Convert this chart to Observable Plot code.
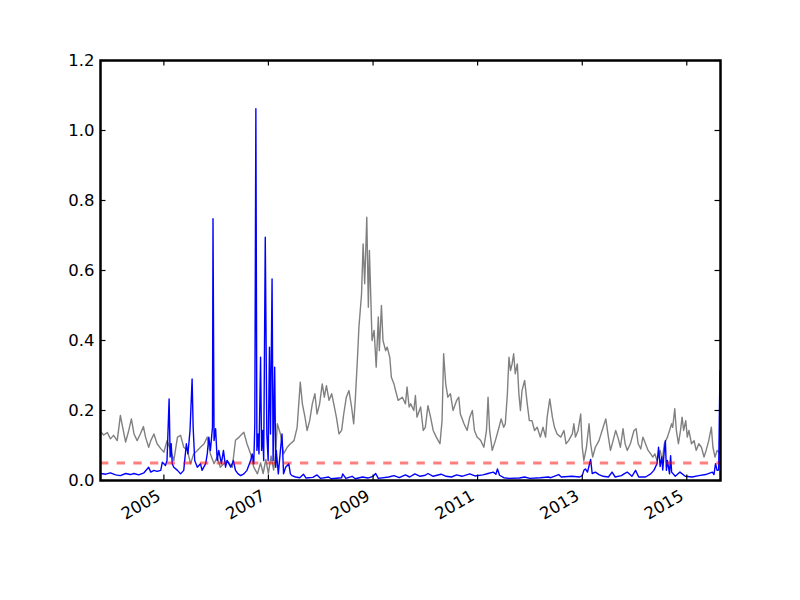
<!DOCTYPE html>
<html>
<head>
<meta charset="utf-8">
<script src="https://cdn.jsdelivr.net/npm/d3@7"></script>
<script src="https://cdn.jsdelivr.net/npm/@observablehq/plot@0.6"></script>
<style>
  html, body { margin: 0; padding: 0; background: white; }
</style>
</head>
<body>
<div id="chart"></div>
<script>
// ---- data (decimal years) ----
const grayYears = [
2003.79,2003.85,2003.92,2003.98,2004.04,2004.11,2004.17,2004.20,2004.27,2004.33,2004.38,2004.43,2004.49,2004.55,2004.61,2004.65,2004.71,2004.75,2004.81,2004.87,2004.94,
2005.00,2005.06,2005.13,2005.19,2005.26,2005.32,2005.38,2005.45,2005.51,2005.57,2005.64,2005.70,2005.77,2005.83,2005.89,2005.96,
2006.02,2006.08,2006.15,2006.21,2006.31,2006.37,2006.44,2006.53,2006.59,2006.66,2006.72,2006.79,2006.85,2006.90,2006.95,
2007.00,2007.05,2007.10,2007.14,2007.17,2007.23,2007.29,2007.36,2007.42,2007.49,2007.55,2007.61,2007.65,2007.70,2007.74,2007.79,2007.84,2007.89,2007.93,2007.98,
2008.03,2008.07,2008.11,2008.16,2008.21,2008.25,2008.30,2008.35,2008.40,2008.44,2008.49,2008.54,2008.59,2008.63,2008.66,2008.70,2008.73,2008.78,2008.81,2008.84,2008.86,2008.88,2008.91,2008.93,2008.96,2008.98,
2009.02,2009.06,2009.10,2009.12,2009.16,2009.19,2009.24,2009.27,2009.32,2009.35,2009.40,2009.43,2009.48,2009.56,2009.62,2009.65,2009.69,2009.72,2009.78,2009.81,2009.84,2009.91,2009.96,
2010.00,2010.05,2010.10,2010.15,2010.21,2010.28,2010.32,2010.35,2010.39,2010.43,2010.48,2010.53,2010.60,2010.64,2010.67,2010.74,2010.80,2010.85,2010.90,2010.94,2010.99,
2011.06,2011.12,2011.17,2011.20,2011.23,2011.28,2011.34,2011.41,2011.45,2011.50,2011.53,2011.57,2011.60,2011.63,2011.66,2011.69,2011.72,2011.76,2011.79,2011.82,2011.85,2011.90,2011.95,2011.99,
2012.04,2012.09,2012.14,2012.20,2012.25,2012.30,2012.33,2012.38,2012.43,2012.47,2012.52,2012.59,2012.65,2012.69,2012.74,2012.81,2012.84,2012.87,2012.92,2012.97,
2013.00,2013.03,2013.08,2013.13,2013.16,2013.20,2013.25,2013.32,2013.38,2013.45,2013.50,2013.54,2013.59,2013.64,2013.69,2013.73,2013.78,2013.82,2013.86,2013.92,2013.99,
2014.03,2014.07,2014.12,2014.16,2014.21,2014.26,2014.31,2014.35,2014.39,2014.43,2014.49,2014.53,2014.57,2014.63,2014.67,2014.71,2014.73,2014.77,2014.80,2014.84,2014.88,2014.91,2014.94,2014.98,
2015.01,2015.04,2015.09,2015.14,2015.18,2015.23,2015.28,2015.33,2015.37,2015.42,2015.47,2015.50,2015.54,2015.58,2015.645
];
const grayValues = [
0.140,0.130,0.137,0.119,0.129,0.114,0.186,0.162,0.110,0.143,0.176,0.133,0.114,0.133,0.154,0.124,0.095,0.114,0.133,0.105,0.091,
0.081,0.114,0.086,0.057,0.124,0.129,0.095,0.086,0.048,0.076,0.086,0.095,0.105,0.124,0.076,0.048,
0.067,0.038,0.048,0.057,0.038,0.115,0.124,0.138,0.105,0.076,0.038,0.019,0.050,0.020,0.060,
0.020,0.070,0.030,0.080,0.162,0.133,0.076,0.095,0.105,0.114,0.152,0.281,0.219,0.181,0.143,0.171,0.219,0.248,0.190,0.219,
0.276,0.238,0.271,0.229,0.248,0.219,0.181,0.133,0.143,0.190,0.238,0.257,0.210,0.162,0.229,0.343,0.438,0.533,0.676,0.562,0.657,0.752,0.495,0.657,0.505,0.400,
0.429,0.324,0.467,0.371,0.500,0.400,0.371,0.381,0.352,0.295,0.276,0.257,0.229,0.238,0.219,0.267,0.210,0.219,0.200,0.243,0.181,0.210,0.143,
0.152,0.214,0.181,0.143,0.124,0.105,0.171,0.362,0.276,0.238,0.248,0.200,0.229,0.238,0.190,0.162,0.143,0.181,0.200,0.143,0.124,
0.114,0.095,0.143,0.238,0.143,0.086,0.114,0.152,0.176,0.152,0.162,0.248,0.352,0.314,0.333,0.362,0.305,0.333,0.248,0.200,0.257,0.286,0.219,0.171,
0.171,0.143,0.152,0.124,0.152,0.124,0.181,0.233,0.181,0.152,0.133,0.124,0.143,0.105,0.114,0.133,0.162,0.124,0.143,0.190,
0.095,0.057,0.095,0.162,0.105,0.067,0.095,0.114,0.143,0.176,0.124,0.086,0.114,0.143,0.119,0.095,0.148,0.105,0.086,0.105,0.143,
0.148,0.105,0.090,0.124,0.105,0.086,0.076,0.067,0.076,0.057,0.086,0.057,0.105,0.124,0.143,0.162,0.152,0.205,0.143,0.105,0.143,0.181,0.143,0.171,
0.124,0.143,0.105,0.114,0.086,0.105,0.095,0.067,0.086,0.114,0.152,0.095,0.067,0.086,0.076
];

const blueYears = [
2003.79,2003.89,2003.98,2004.08,2004.17,2004.27,2004.36,2004.43,2004.52,2004.62,2004.71,2004.75,2004.81,2004.87,2004.94,2004.97,
2005.00,2005.03,2005.06,2005.10,2005.12,2005.14,2005.16,2005.19,2005.26,2005.32,2005.38,2005.43,2005.46,2005.50,2005.54,2005.56,2005.59,2005.64,2005.70,2005.73,2005.80,2005.83,2005.86,2005.89,2005.93,2005.94,2005.96,2005.99,
2006.02,2006.05,2006.10,2006.14,2006.18,2006.21,2006.28,2006.33,2006.37,2006.42,2006.47,2006.53,2006.59,2006.66,2006.69,2006.72,2006.74,2006.76,2006.78,2006.80,2006.82,2006.85,2006.87,2006.89,2006.91,2006.94,2006.97,2006.995,
2007.02,2007.04,2007.07,2007.09,2007.12,2007.14,2007.15,2007.19,2007.23,2007.26,2007.29,2007.33,2007.39,2007.42,2007.45,2007.52,2007.60,2007.67,2007.72,2007.85,2007.93,
2008.00,2008.15,2008.20,2008.40,2008.42,2008.48,2008.60,2008.66,2008.80,2008.90,
2009.00,2009.05,2009.10,2009.30,2009.40,2009.50,2009.62,2009.70,2009.80,2009.90,
2010.00,2010.05,2010.15,2010.30,2010.40,2010.50,2010.60,2010.70,2010.85,2010.95,
2011.10,2011.20,2011.30,2011.35,2011.38,2011.42,2011.50,2011.60,2011.80,2011.90,
2012.00,2012.20,2012.35,2012.40,2012.55,2012.60,2012.80,2012.95,
2013.00,2013.03,2013.06,2013.10,2013.16,2013.19,2013.25,2013.32,2013.40,2013.50,2013.57,2013.63,2013.75,2013.80,2013.86,2013.95,
2014.02,2014.08,2014.21,2014.31,2014.37,2014.43,2014.46,2014.49,2014.52,2014.54,2014.57,2014.59,2014.61,2014.63,2014.67,2014.69,2014.71,2014.78,2014.87,2014.97,
2015.10,2015.23,2015.36,2015.49,2015.52,2015.55,2015.58,2015.61,2015.635
];
const blueValues = [
0.020,0.018,0.022,0.016,0.014,0.020,0.017,0.020,0.016,0.022,0.038,0.024,0.029,0.026,0.029,0.052,
0.048,0.043,0.057,0.233,0.067,0.105,0.048,0.038,0.029,0.019,0.029,0.105,0.076,0.143,0.290,0.152,0.057,0.038,0.048,0.029,0.048,0.076,0.124,0.086,0.152,0.748,0.114,0.148,
0.057,0.086,0.048,0.086,0.038,0.057,0.038,0.057,0.029,0.019,0.014,0.019,0.029,0.057,0.076,0.048,0.162,1.062,0.086,0.133,0.076,0.352,0.086,0.143,0.057,0.695,0.133,0.057,
0.381,0.133,0.576,0.057,0.324,0.038,0.086,0.019,0.086,0.133,0.019,0.038,0.048,0.019,0.014,0.010,0.008,0.018,0.007,0.009,0.016,
0.006,0.010,0.005,0.008,0.019,0.006,0.012,0.005,0.010,0.007,
0.012,0.020,0.006,0.010,0.014,0.008,0.016,0.010,0.019,0.012,
0.015,0.020,0.012,0.018,0.012,0.010,0.016,0.012,0.019,0.013,
0.016,0.020,0.024,0.018,0.033,0.015,0.008,0.006,0.007,0.010,
0.006,0.008,0.010,0.008,0.017,0.010,0.012,0.010,
0.014,0.029,0.033,0.024,0.060,0.020,0.024,0.017,0.012,0.010,0.024,0.010,0.014,0.019,0.024,0.012,
0.029,0.010,0.010,0.019,0.029,0.048,0.095,0.040,0.067,0.030,0.086,0.114,0.029,0.057,0.019,0.071,0.024,0.012,0.024,0.012,
0.010,0.014,0.017,0.024,0.017,0.048,0.029,0.030,0.314
];

const threshold = 0.05;
const yTicks = [0.0, 0.2, 0.4, 0.6, 0.8, 1.0, 1.2];
const xTickYears = [2005, 2007, 2009, 2011, 2013, 2015];
const xDomainYears = [2003.79, 2015.645];

// ---- helpers ----
function yearToDate(y) {
  const yr = Math.floor(y);
  const s = Date.UTC(yr, 0, 1), e = Date.UTC(yr + 1, 0, 1);
  return new Date(s + (y - yr) * (e - s));
}
const grayData = grayYears.map((y, i) => ({date: yearToDate(y), value: grayValues[i]}));
const blueData = blueYears.map((y, i) => ({date: yearToDate(y), value: blueValues[i]}));
const xTicks = xTickYears.map(y => ({date: yearToDate(y), label: String(y)}));

const W = 800, H = 600, mL = 100, mR = 80, mT = 60, mB = 120;
const fw = W - mL - mR, fh = H - mT - mB;
const tickLen = 5.5;

const chart = Plot.plot({
  width: W, height: H,
  marginLeft: mL, marginRight: mR, marginTop: mT, marginBottom: mB,
  style: {fontFamily: "'DejaVu Sans', sans-serif", fontSize: "16.5px", background: "white", color: "black"},
  x: {type: "utc", domain: xDomainYears.map(yearToDate), axis: null},
  y: {domain: [0, 1.2], axis: null},
  marks: [
    Plot.line(grayData, {x: "date", y: "value", stroke: "gray", strokeWidth: 1.4, clip: true}),
    Plot.line(blueData, {x: "date", y: "value", stroke: "blue", strokeWidth: 1.4, clip: true}),
    Plot.ruleY([threshold], {stroke: "red", strokeOpacity: 0.5, strokeWidth: 2.8, strokeDasharray: "8.33,8.33"}),
    Plot.tickY(yTicks, {y: d => d, insetRight: fw - tickLen, stroke: "black", strokeWidth: 1.2}),
    Plot.tickY(yTicks, {y: d => d, insetLeft: fw - tickLen, stroke: "black", strokeWidth: 1.2}),
    Plot.tickX(xTicks, {x: "date", insetTop: fh - tickLen, stroke: "black", strokeWidth: 1.2}),
    Plot.tickX(xTicks, {x: "date", insetBottom: fh - tickLen, stroke: "black", strokeWidth: 1.2}),
    Plot.text(yTicks, {y: d => d, text: d => d.toFixed(1), frameAnchor: "left", textAnchor: "end", lineAnchor: "middle", dx: -6, fill: "black"}),
    Plot.text(xTicks, {x: "date", text: "label", frameAnchor: "bottom", textAnchor: "end", lineAnchor: "bottom", rotate: -30, dx: -2, dy: 18.5, fill: "black"}),
    Plot.frame({stroke: "black", strokeWidth: 2.5})
  ]
});
document.getElementById("chart").appendChild(chart);
</script>
</body>
</html>
